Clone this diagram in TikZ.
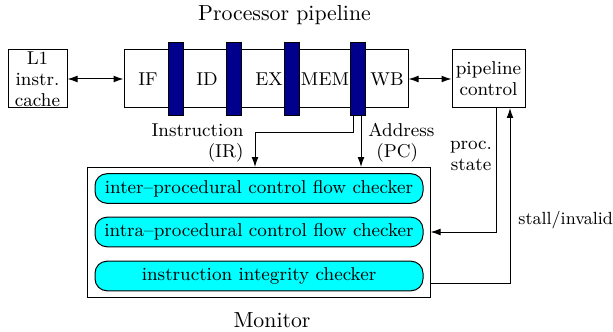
\documentclass[tikz,border=0pt]{standalone}
\usepackage{tikz}
\usetikzlibrary{positioning, arrows.meta}
\definecolor{stagebar}{RGB}{0,0,140}
\definecolor{checkfill}{RGB}{0,255,255}
\tikzset{
  unit/.style={draw, line width=0.5pt, inner sep=0pt, align=center},
  latch/.style={draw, line width=0.5pt, fill=stagebar, minimum width=7.5pt, minimum height=36.5pt, inner sep=0pt},
  checker/.style={draw, line width=0.5pt, fill=checkfill, rounded corners=6pt, minimum width=164pt, minimum height=14.8pt, inner sep=0pt},
  link/.style={line width=0.5pt, >={Latex[length=5pt, width=3.4pt]}},
}

\begin{document}
\begin{tikzpicture}[x=0.5pt, y=-0.5pt, font=\fontsize{9.3}{10.5}\selectfont]
            \useasboundingbox (0,0) rectangle (613,331);

            %Nodes
            \node[font=\fontsize{10.9}{12}\selectfont] at (284.5,15) (ptitle) {Processor pipeline};
            \node[unit, minimum width=29.5pt, minimum height=29pt] at (37.5,79) (l1) {L1\\instr.\\cache};
            \node[unit, minimum width=142pt, minimum height=29pt] at (266,79) (pipe) {};
            \node[unit, minimum width=36.5pt, minimum height=29pt] at (488.5,79) (ctrl) {pipeline\\control};

            \node at (148,79) (sif) {IF};
            \node at (207,79) (sid) {ID};
            \node at (269,79) (sex) {EX};
            \node at (325,79) (smem) {MEM};
            \node at (387,79) (swb) {WB};

            \node[latch] at (175.5,79.5) (b1) {};
            \node[latch] at (233.5,79.5) (b2) {};
            \node[latch] at (291.5,79.5) (b3) {};
            \node[latch] at (357.5,79.5) (b4) {};

            \node[unit, minimum width=171.5pt, minimum height=65pt] at (258.5,232) (monitor) {};
            \node[checker] at (259,188.5) (inter) {inter--procedural control flow checker};
            \node[checker] at (259,232) (intra) {intra--procedural control flow checker};
            \node[checker] at (259,276) (integ) {instruction integrity checker};
            \node[font=\fontsize{10.9}{12}\selectfont] at (272,320) (mtitle) {Monitor};

            \node[align=right, anchor=east, inner sep=0pt] at (244,143) (irlab) {Instruction\\(IR)};
            \node[align=left, anchor=west, inner sep=0pt] at (368,143) (pclab) {Address\\\hspace{4pt}(PC)};
            \node[align=center] at (471,156) (stlab) {proc.\\state};
            \node[anchor=west, inner sep=0pt, font=\fontsize{8.8}{10}\selectfont] at (518,220) (svlab) {stall/invalid};

            \coordinate (irout) at (353,116);
            \coordinate (irin) at (255,167);
            \coordinate (pcout) at (361,116);
            \coordinate (pcin) at (361,167);
            \coordinate (stout) at (496,108);
            \coordinate (svin) at (510,108);
            \coordinate (svout) at (430,283);

            %Lines
            \draw[link, <->] (l1) -- (pipe);
            \draw[link, <->] (pipe) -- (ctrl);
            \draw[link, ->] (irout) -- ++(0,17) -| (irin);
            \draw[link, ->] (pcout) -- (pcin);
            \draw[link, ->] (stout) |- (monitor.east);
            \draw[link, ->] (svout) -| (svin);
        \end{tikzpicture}
\end{document}
